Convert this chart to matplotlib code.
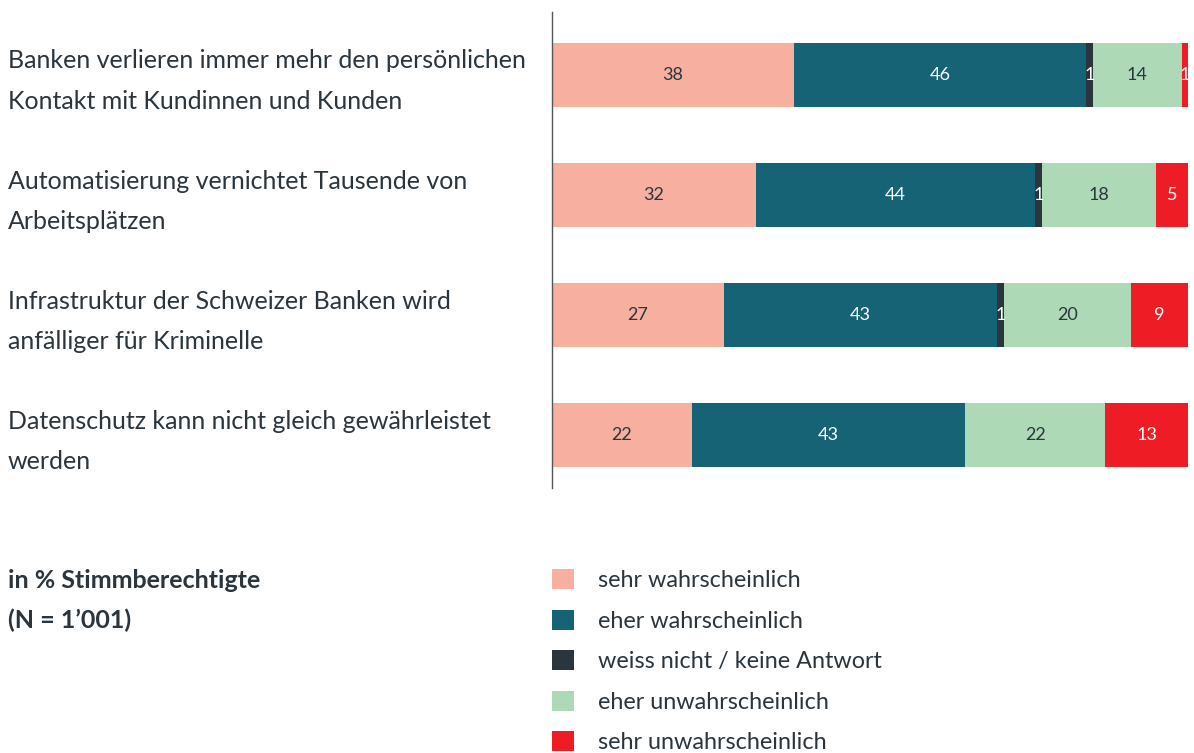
import matplotlib
matplotlib.use("Agg")
import matplotlib.pyplot as plt
from matplotlib.patches import Patch

# DATA
statements = ["Banken verlieren immer mehr den persönlichen\nKontakt mit Kundinnen und Kunden",
              "Automatisierung vernichtet Tausende von\nArbeitsplätzen",
              "Infrastruktur der Schweizer Banken wird\nanfälliger für Kriminelle",
              "Datenschutz kann nicht gleich gewährleistet\nwerden"]
categories = ["sehr wahrscheinlich", "eher wahrscheinlich", "weiss nicht / keine Antwort",
              "eher unwahrscheinlich", "sehr unwahrscheinlich"]
sehr_wahr = [38, 32, 27, 22]
eher_wahr = [46, 44, 43, 43]
weiss_nicht = [1, 1, 1, 0]
eher_unwahr = [14, 18, 20, 22]
sehr_unwahr = [1, 5, 9, 13]
series = [sehr_wahr, eher_wahr, weiss_nicht, eher_unwahr, sehr_unwahr]
note_lines = ["in % Stimmberechtigte", "(N = 1’001)"]

# STYLE
COLORS = ['#F7AFA0', '#156375', '#2A353D', '#AED9B7', '#EE1D25']
LABEL_COLORS = ['#2A353D', 'white', 'white', '#2A353D', 'white']
TEXT_COLOR = '#2A353D'
FONT = ['Lato', 'DejaVu Sans']

plt.rcParams['font.family'] = FONT

W, H = 1194, 753
fig = plt.figure(figsize=(W / 100, H / 100), dpi=100)
ax = fig.add_axes([552 / W, (H - 488) / H, (1188 - 552) / W, (488 - 12) / H])

y = list(range(len(statements)))
left = [0] * len(statements)
for vals, color, lcol in zip(series, COLORS, LABEL_COLORS):
    bars = ax.barh(y, vals, left=left, height=0.535, color=color, linewidth=0)
    for bar, v in zip(bars, vals):
        if v > 0:
            ax.text(bar.get_x() + bar.get_width() / 2, bar.get_y() + bar.get_height() / 2,
                    str(v), ha='center', va='center', color=lcol, fontsize=13)
    left = [l + v for l, v in zip(left, vals)]

ax.set_xlim(0, 100)
ax.set_ylim(3.44, -0.525)
ax.set_xticks([])
ax.set_yticks([])
for side in ['top', 'right', 'bottom']:
    ax.spines[side].set_visible(False)
ax.spines['left'].set_color('#555555')
ax.spines['left'].set_linewidth(1.0)

# statement labels on the left
for i, s in enumerate(statements):
    yy = ax.transData.transform((0, i + 0.05))[1] / H
    fig.text(8 / W, yy, s, ha='left', va='center', fontsize=18, color=TEXT_COLOR,
             linespacing=1.9)

# note
for k, line in enumerate(note_lines):
    fig.text(8 / W, 1 - (580 + 40 * k) / H, line, ha='left', va='center',
             fontsize=18, fontweight='bold', color=TEXT_COLOR)

handles = [Patch(facecolor=c, edgecolor='none', label=l) for c, l in zip(COLORS, categories)]
fig.legend(handles=handles, loc='upper left', bbox_to_anchor=(552 / W, 1 - 569 / H),
           frameon=False, handlelength=0.95, handleheight=0.95,
           handletextpad=1.0, labelspacing=0.79, borderpad=0, borderaxespad=0,
           labelcolor=TEXT_COLOR, prop={'size': 16.8})

fig.savefig("out.png", dpi=100, facecolor='white')
